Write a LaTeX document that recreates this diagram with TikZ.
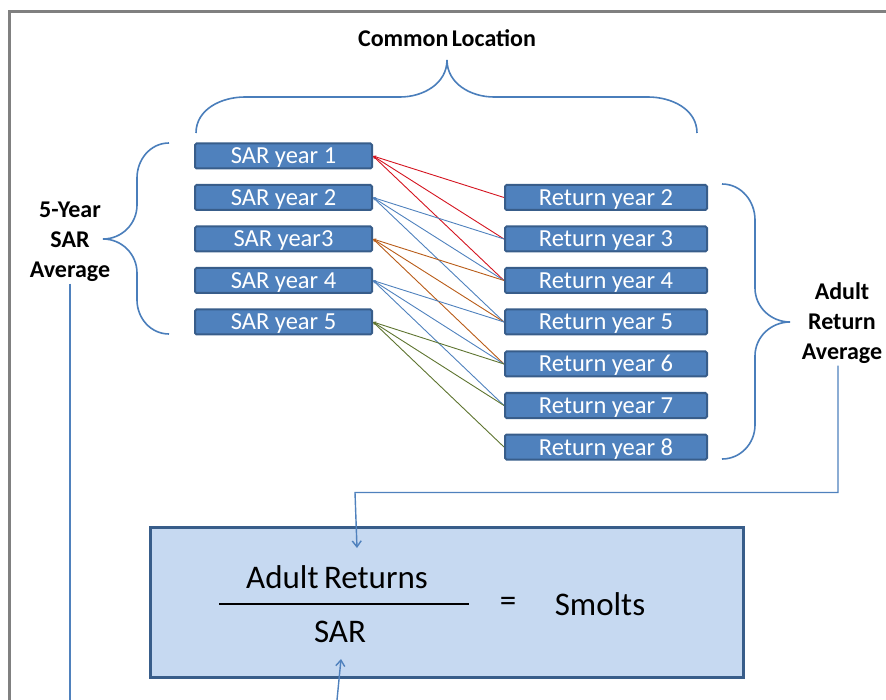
\documentclass[tikz,border=0pt]{standalone}
\usepackage{fontspec}
\setmainfont{Carlito}
\usepackage{tikz}
\usetikzlibrary{arrows.meta}
\definecolor{boxblue}{RGB}{79,129,189}
\definecolor{boxedge}{RGB}{56,93,138}
\definecolor{paleblue}{RGB}{198,217,241}
\definecolor{braceblue}{RGB}{74,126,187}
\definecolor{framegray}{RGB}{128,128,128}
\definecolor{linkred}{RGB}{212,20,32}
\definecolor{linkbrown}{RGB}{184,92,24}
\definecolor{linkgreen}{RGB}{94,116,48}

\begin{document}
\begin{tikzpicture}[x=1pt,y=-1pt,
    yearbox/.style={draw=boxedge,fill=boxblue,line width=2pt,rounded corners=1.5pt,
      text=white,inner sep=0pt,minimum height=25pt,text height=16pt,text depth=0pt,
      font=\fontsize{24.5}{27}\selectfont},
    sarbox/.style={yearbox,minimum width=177pt},
    retbox/.style={yearbox,minimum width=202pt},
    label/.style={align=center,font=\fontsize{24}{30}\selectfont\bfseries,inner sep=2pt},
    brace/.style={draw=braceblue,line width=1.6pt},
    flow/.style={draw=boxblue,line width=1.4pt,-{Straight Barb[length=6pt,width=9pt]}},
    pair/.style={line width=0.9pt,{Stealth[length=3pt,width=3pt]}-}]
    \useasboundingbox (0,0) rectangle (886,700);

    \draw[framegray,line width=3pt]
      (9.5,700) -- (9.5,11.5) -- (886,11.5);

    % the two columns of years
    \node[sarbox] (sar1) at (283.5,156) {SAR year 1};
    \node[sarbox] (sar2) at (283.5,197.5) {SAR year 2};
    \node[sarbox] (sar3) at (283.5,239) {SAR year3};
    \node[sarbox] (sar4) at (283.5,280.5) {SAR year 4};
    \node[sarbox] (sar5) at (283.5,322) {SAR year 5};

    \node[retbox] (ret2) at (606,197.5) {Return year 2};
    \node[retbox] (ret3) at (606,239) {Return year 3};
    \node[retbox] (ret4) at (606,280.5) {Return year 4};
    \node[retbox] (ret5) at (606,322) {Return year 5};
    \node[retbox] (ret6) at (606,364) {Return year 6};
    \node[retbox] (ret7) at (606,405.5) {Return year 7};
    \node[retbox] (ret8) at (606,447) {Return year 8};

    \draw[pair,linkred] (sar1.east) -- (ret2.west);
    \draw[pair,linkred] (sar1.east) -- (ret3.west);
    \draw[pair,linkred] (sar1.east) -- (ret4.west);
    \draw[pair,boxblue] (sar2.east) -- (ret3.west);
    \draw[pair,boxblue] (sar2.east) -- (ret4.west);
    \draw[pair,boxblue] (sar2.east) -- (ret5.west);
    \draw[pair,linkbrown] (sar3.east) -- (ret4.west);
    \draw[pair,linkbrown] (sar3.east) -- (ret5.west);
    \draw[pair,linkbrown] (sar3.east) -- (ret6.west);
    \draw[pair,boxblue] (sar4.east) -- (ret5.west);
    \draw[pair,boxblue] (sar4.east) -- (ret6.west);
    \draw[pair,boxblue] (sar4.east) -- (ret7.west);
    \draw[pair,linkgreen] (sar5.east) -- (ret6.west);
    \draw[pair,linkgreen] (sar5.east) -- (ret7.west);
    \draw[pair,linkgreen] (sar5.east) -- (ret8.west);

    % braces and their labels
    \node[label] (common) at (447,38) {Common\hspace{-2pt} Location};
    \draw[brace]
      (196,133) to[out=90,in=180] (245,97) -- (400,97) to[out=0,in=-90] (447,60)
      to[out=-90,in=180] (494,97) -- (648,97) to[out=0,in=90] (697,133);

    \node[label] (saravg) at (70,241.5) {5-Year\\SAR\\Average};
    \draw[brace]
      (169,143) to[out=180,in=90] (137,178) -- (137,205) to[out=-90,in=0] (103,239)
      to[out=0,in=90] (137,273) -- (137,300) to[out=-90,in=180] (169,334);

    \node[label] (retavg) at (842,323) {Adult\\Return\\Average};
    \draw[brace]
      (722,184) to[out=0,in=90] (755,220) -- (755,288) to[out=-90,in=180] (790,322)
      to[out=180,in=90] (755,356) -- (755,425) to[out=-90,in=0] (722,459);

    % the formula
    \node[draw=boxedge,fill=paleblue,line width=3pt,minimum width=593pt,minimum height=150pt,
      inner sep=0pt] (formula) at (446.5,602) {};
    \node[font=\fontsize{33}{36}\selectfont] (num) at (337,577) {Adult\hspace{-2pt} Returns};
    \node[font=\fontsize{33}{36}\selectfont] (den) at (340,632) {SAR};
    \draw[line width=2pt] (219,604) -- (469,604);
    \node[font=\fontsize{33}{36}\selectfont] (equals) at (508,604) {=};
    \node[font=\fontsize{33}{36}\selectfont] (smolts) at (600,604) {Smolts};

    \coordinate (ret corner) at (355,492.5);
    \coordinate (ret in) at (357,548);
    \draw[flow] ([xshift=-4pt]retavg.south) |- (ret corner) -- (ret in);

    \coordinate (sar out) at (70,700);
    \draw[boxblue,line width=1.4pt] (saravg.south) -- (sar out);
    \coordinate (sar from) at (337,700);
    \coordinate (sar in) at (341,659);
    \draw[flow] (sar from) -- (sar in);
  \end{tikzpicture}
\end{document}
